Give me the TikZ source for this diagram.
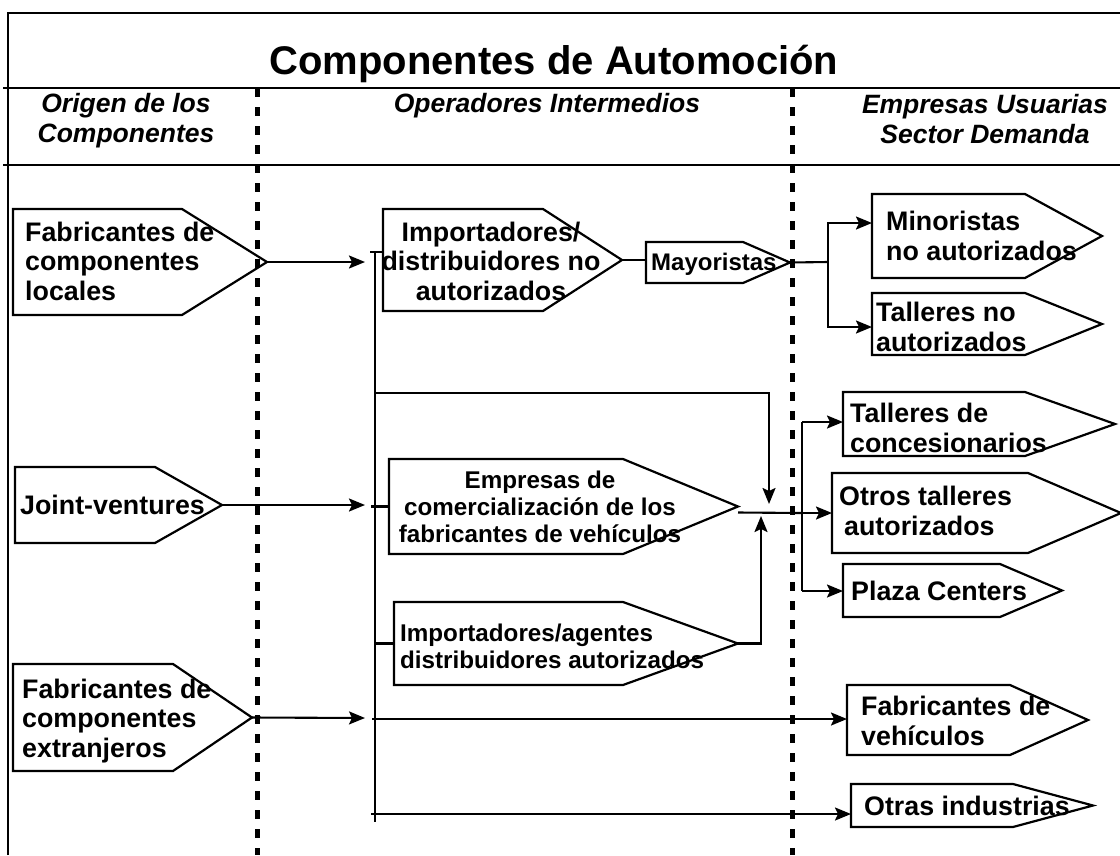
\documentclass[tikz,border=0pt]{standalone}
\usepackage{fontspec}
\setmainfont{Liberation Sans}
\usetikzlibrary{arrows.meta}
\newcommand\pentnode[6]{% name, left, top, point start, tip, bottom
  \node[inner sep=0pt, outer sep=0pt, minimum width={(#5-(#2))*1pt}, minimum height={(#6-(#3))*1pt}, anchor=north west] (#1) at (#2,#3) {};
  \draw[outline] (#1.north west) -- (#4,#3) -- (#1.east) -- (#4,#6) -- (#1.south west) -- cycle;
}
\begin{document}
\begin{tikzpicture}[x=1pt,y=-1pt,
  outline/.style={draw=black, line width=2.2pt, line join=miter},
  conn/.style={line width=2.1pt},
  arr/.style={conn, -{Stealth[length=16pt,width=13pt,inset=3pt]}},
  sep/.style={line width=5pt, dash pattern=on 8.5pt off 10.5pt},
  frame/.style={line width=2.6pt},
  txt/.style={inner sep=0pt, font=\fontsize{26.8}{29.5}\selectfont\bfseries, align=left, anchor=west},
  txtc/.style={inner sep=0pt, font=\fontsize{26.8}{29.5}\selectfont\bfseries, align=center},
  txtm/.style={inner sep=0pt, font=\fontsize{24.2}{27}\selectfont\bfseries, align=center},
  hdr/.style={inner sep=0pt, font=\fontsize{26.5}{30}\selectfont\bfseries\itshape, align=center}
]
\useasboundingbox (0,0) rectangle (1120,855);
% frame
\draw[frame] (8,855) -- (8,13) -- (1120,13);
\draw[frame] (3,88) -- (1120,88);
\draw[frame] (3,165) -- (1120,165);
% titles
\node[inner sep=0pt, font=\fontsize{40}{44}\selectfont\bfseries, anchor=base] (title) at (554,74) {Componentes de Automoción};
\node[hdr] (h1) at (126,121) {Origen de los\\Componentes};
\node[hdr, anchor=base] (h2) at (547,112) {Operadores Intermedios};
\node[hdr] (h3) at (985,119) {Empresas Usuarias\\Sector Demanda};
% pentagons
\pentnode{FL}{13}{209}{182}{267}{315}
\pentnode{JV}{15}{467}{155}{222}{543}
\pentnode{FE}{13}{664}{173}{252}{771}
\pentnode{IDN}{383}{209}{543}{622}{311}
\pentnode{MAY}{646}{242}{743}{790}{283}
\pentnode{EMP}{389}{459}{623}{738}{554}
\pentnode{IDA}{394}{602}{623}{738}{685}
\pentnode{MIN}{872}{194}{1025}{1102}{278}
\pentnode{TNA}{872}{293}{1025}{1102}{355}
\pentnode{TC}{843}{392}{1025}{1115}{456}
\pentnode{OTA}{832}{473}{1028}{1121}{553}
\pentnode{PC}{843}{564}{1000}{1062}{617}
\pentnode{FV}{847}{685}{1010}{1088}{755}
\pentnode{OI}{851}{784}{1013}{1093}{827}
% texts
\node[txt] (FL-t) at (25,261) {Fabricantes de\\componentes\\locales};
\node[txt] (JV-t) at (20,505) {Joint-ventures};
\node[txt] (FE-t) at (22,721) {Fabricantes de\\componentes\\extranjeros};
\node[txtc] (IDN-t) at (491,261) {Importadores/\\distribuidores no\\autorizados};
\node[inner sep=0pt, font=\fontsize{24}{27}\selectfont\bfseries, anchor=west] (MAY-t) at (651,264) {Mayoristas};
\node[txtm] (EMP-t) at (540,507) {Empresas de\\comercialización de los\\fabricantes de vehículos};
\node[txtm, align=left, anchor=west] (IDA-t) at (400,646) {Importadores/agentes\\distribuidores autorizados};
\node[txt] (MIN-t) at (886,236) {Minoristas\\no autorizados};
\node[txt] (TNA-t) at (876,327) {Talleres no\\autorizados};
\node[txt] (TC-t) at (850,428) {Talleres de\\concesionarios};
\node[txt] (OTA-t) at (839,511) {Otros talleres\\\hspace*{5pt}autorizados};
\node[txt] (PC-t) at (851,591) {Plaza Centers};
\node[txt] (FV-t) at (861,721) {Fabricantes de\\vehículos};
\node[txt] (OI-t) at (864,806) {Otras industrias};
% separators
\draw[sep] (257,88) -- (257,855);
\draw[sep] (792,88) -- (792,855);
% connectors
\coordinate (busTop) at (375,252);
\coordinate (busTopL) at (370,252);
\coordinate (busBot) at (375,822);
\coordinate (inFL) at (365,262);
\coordinate (inJV) at (365,505);
\coordinate (inFE) at (365,718);
\coordinate (j1) at (828,262);
\coordinate (l1) at (375,393);
\coordinate (l2) at (769,504);
\coordinate (up) at (761,516);
\coordinate (rb) at (802,513);
\coordinate (rbTop) at (802,422);
\coordinate (rbBot) at (802,591);
\coordinate (b719) at (372,719);
\coordinate (b814) at (371,814);
\draw[conn] (busTop) -- (busBot);
\draw[conn] (busTopL) -- (busTopL -| IDN.west);
\draw[arr] (FL.east) -- (inFL);
\draw[arr] (JV.east) -- (inJV);
\draw[arr] (FE.east) -- (inFE);
\draw[conn] (IDN.east) -- (IDN.east -| MAY.west);
\draw[conn] (MAY.east) -- (j1);
\draw[arr] (j1) |- ([yshift=13pt]MIN.west);
\draw[arr] (j1) |- ([yshift=-3pt]TNA.west);
\draw[arr] (l1) -| (l2);
\draw[conn] ([xshift=-4pt]EMP.west -| busTop) -- (EMP.west);
\draw[conn] (IDA.west -| busTop) -- (IDA.west);
\draw[conn] ([yshift=-6pt]EMP.east) -- (rb);
\draw[arr] (IDA.east) -| (up);
\draw[conn] (rbTop) -- (rbBot);
\draw[arr] (rbTop) -- (rbTop -| TC.west);
\draw[arr] (rb) -- (rb -| OTA.west);
\draw[arr] (rbBot) -- (rbBot -| PC.west);
\draw[arr] (b719) -- (b719 -| FV.west);
\draw[arr] (b814) -- (b814 -| OI.west);
\end{tikzpicture}
\end{document}
